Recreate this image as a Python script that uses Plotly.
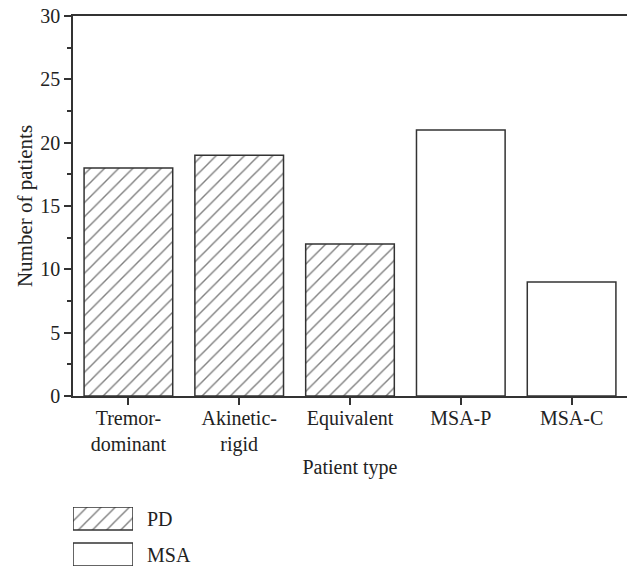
import plotly.graph_objects as go

categories = ["Tremor-<br>dominant", "Akinetic-<br>rigid", "Equivalent", "MSA-P", "MSA-C"]
pd_values = [18, 19, 12, None, None]
msa_values = [None, None, None, 21, 9]
legend_labels = ["PD", "MSA"]
y_ticks = [0, 5, 10, 15, 20, 25, 30]

FONT = "Liberation Serif"
LINE = "#333333"
TXT = "#222222"
FS = 20
W, H = 627, 567
ml, mr, mt, mb = 73, 0, 16, 0
ph = H - mt - mb
pw = W - ml - mr
main_bottom = (H - 396) / ph

hatch = dict(shape="/", fgcolor="#000000", bgcolor="white", size=10, solidity=0.14)

fig = go.Figure()
fig.add_trace(go.Bar(
    x=categories, y=pd_values, name="PD", width=0.8,
    marker=dict(color="white", line=dict(color=LINE, width=1.5), pattern=hatch),
    showlegend=False))
fig.add_trace(go.Bar(
    x=categories, y=msa_values, name="MSA", width=0.8,
    marker=dict(color="white", line=dict(color=LINE, width=1.5)),
    showlegend=False))

# legend swatches on an auxiliary axis
fig.add_trace(go.Bar(
    x=[1], y=[1], orientation="h", width=23/36, xaxis="x2", yaxis="y2",
    marker=dict(color="white", line=dict(color=LINE, width=1.5), pattern=hatch),
    showlegend=False, hoverinfo="skip"))
fig.add_trace(go.Bar(
    x=[1], y=[0], orientation="h", width=23/36, xaxis="x2", yaxis="y2",
    marker=dict(color="white", line=dict(color=LINE, width=1.5)),
    showlegend=False, hoverinfo="skip"))

fig.update_layout(
    width=W, height=H,
    margin=dict(l=ml, r=mr, t=mt, b=mb),
    paper_bgcolor="white", plot_bgcolor="white",
    font=dict(family=FONT, size=FS, color=TXT),
    barmode="overlay",
    xaxis=dict(
        type="category", range=[-0.5, 4.5], domain=[0, 1],
        showline=True, linecolor=LINE, linewidth=1.5, mirror=True,
        ticks="outside", ticklen=7, tickcolor=LINE, tickwidth=1.5,
        ticklabelstandoff=-4,
        showgrid=False, zeroline=False, anchor="y", automargin=False,
        title=dict(text="Patient type", font=dict(size=FS), standoff=5),
        tickfont=dict(size=FS),
    ),
    yaxis=dict(
        range=[0, 30], domain=[main_bottom, 1], anchor="x",
        tickvals=y_ticks, automargin=False,
        showline=True, linecolor=LINE, linewidth=1.5,
        ticks="outside", ticklen=7, tickcolor=LINE, tickwidth=1.5,
        minor=dict(dtick=2.5, tick0=0, ticks="outside", ticklen=4, tickcolor=LINE, tickwidth=1.5),
        showgrid=False, zeroline=False,
        title=dict(text="Number of patients", font=dict(size=21), standoff=2),
        tickfont=dict(size=FS),
    ),
    xaxis2=dict(domain=[0, 60 / pw], range=[0, 1], visible=False, anchor="y2", fixedrange=True),
    yaxis2=dict(domain=[1 / ph, 60 / ph], range=[-11.5/36, 1 + 11.5/36], visible=False, anchor="x2", fixedrange=True),
)

for i, lab in enumerate(legend_labels):
    fig.add_annotation(
        x=1, y=1 - i, xref="x2", yref="y2", text=lab, showarrow=False,
        xanchor="left", xshift=12, font=dict(family=FONT, size=FS, color=TXT))

fig.write_html("out.html", config={"displayModeBar": False},
               post_script="document.body.style.margin='0';")
